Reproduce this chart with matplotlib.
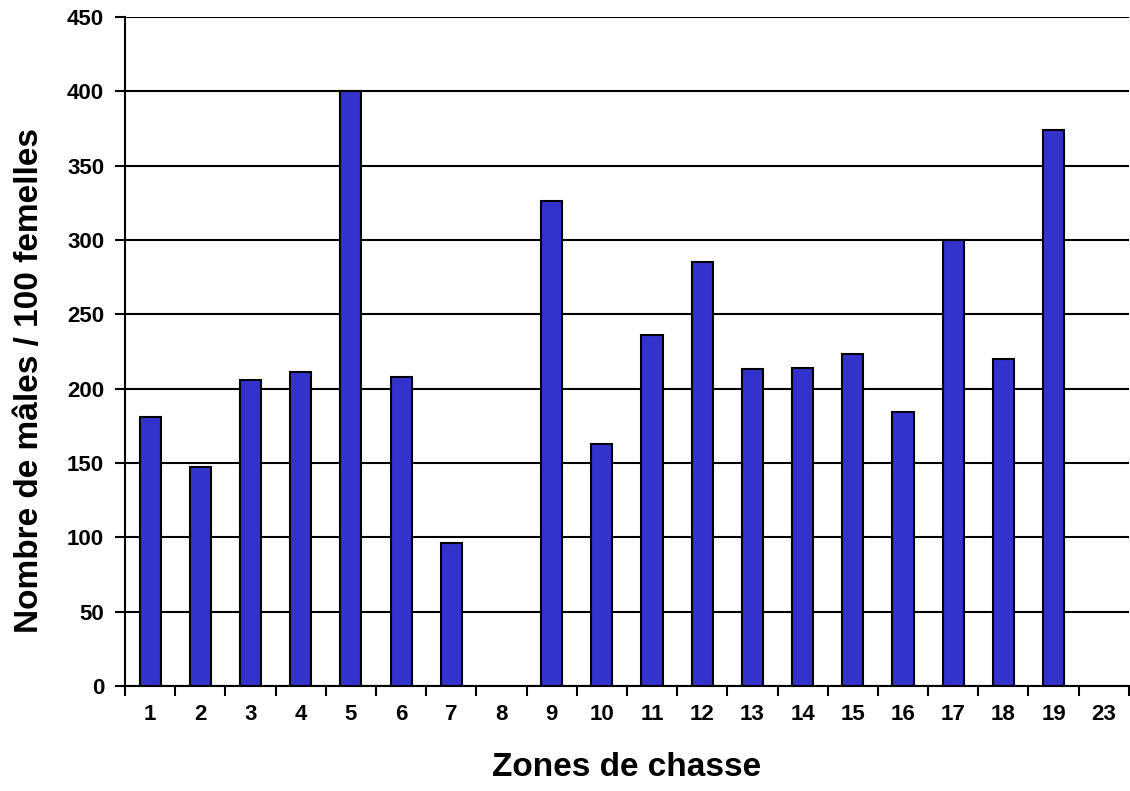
import matplotlib
matplotlib.use('Agg')
import matplotlib.pyplot as plt
import numpy as np
from matplotlib.ticker import FixedLocator, NullFormatter

plt.rcParams['font.family'] = ['Liberation Sans', 'DejaVu Sans']

# Data
zones = ['1', '2', '3', '4', '5', '6', '7', '8', '9', '10',
         '11', '12', '13', '14', '15', '16', '17', '18', '19', '23']
ratio = [181, 147, 206, 211, 400, 208, 96, np.nan, 326, 163,
         236, 285, 213, 214, 223, 184, 300, 220, 374, np.nan]
yticks = [0, 50, 100, 150, 200, 250, 300, 350, 400, 450]

fig = plt.figure(figsize=(11.3, 7.91), dpi=100)
ax = fig.add_axes([0.1106, 0.1327, 0.8884, 0.8458])

x = np.arange(len(zones))
ax.bar(x, ratio, width=0.42, color='#3333CC', edgecolor='black',
       linewidth=1.5, zorder=3)

ax.set_xlim(-0.5, len(zones) - 0.5)
ax.set_ylim(0, 450)
ax.set_yticks(yticks)
ax.set_yticklabels([str(v) for v in yticks], fontsize=16, fontweight='bold')
ax.set_xticks(x)
ax.set_xticklabels(zones, fontsize=16, fontweight='bold')
ax.tick_params(axis='x', which='major', length=0, pad=13)
ax.xaxis.set_minor_locator(FixedLocator(np.arange(-0.5, len(zones), 1.0)))
ax.xaxis.set_minor_formatter(NullFormatter())
ax.tick_params(axis='x', which='minor', length=7, width=1.5, direction='out')
ax.tick_params(axis='y', length=7, width=1.5, direction='out', pad=8)

ax.yaxis.grid(True, color='black', linewidth=1.5, zorder=0)
ax.set_axisbelow(True)
for s in ax.spines.values():
    s.set_linewidth(1.5)
ax.spines['top'].set_visible(False)
ax.spines['right'].set_visible(False)

ax.set_xlabel('Zones de chasse', fontsize=24, fontweight='bold')
ax.xaxis.set_label_coords(0.5, -0.098)
ax.set_ylabel('Nombre de mâles / 100 femelles', fontsize=24,
              fontweight='bold')
ax.yaxis.set_label_coords(-0.08, 0.456)

fig.savefig('out.png', dpi=100)
